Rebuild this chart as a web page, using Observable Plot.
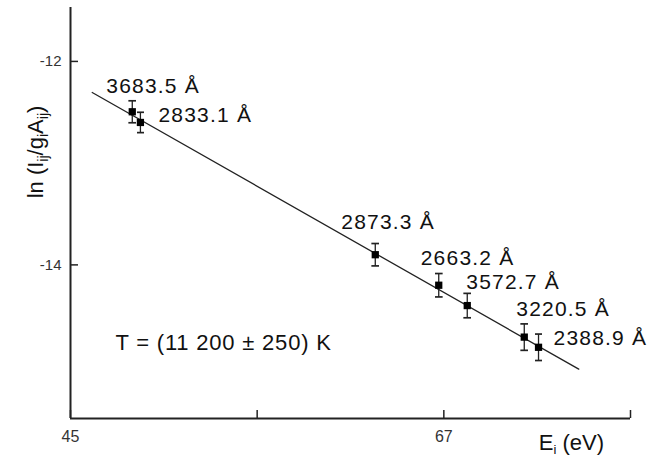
<!DOCTYPE html>
<html><head><meta charset="utf-8">
<script src="https://cdn.jsdelivr.net/npm/d3@7"></script>
<script src="https://cdn.jsdelivr.net/npm/@observablehq/plot@0.6"></script>
<style>
body{margin:0;background:#fff}
svg{display:block}
g.wl text{letter-spacing:1.2px}
g.ann text{letter-spacing:0.8px}
g[aria-label="x-axis tick label"] text{font-size:16px}
g[aria-label="y-axis tick label"] text{font-size:15px}
</style>
</head><body><div id="chart"></div>
<script>
// ---- data ----
const wavelengths = ["3683.5 Å", "2833.1 Å", "2873.3 Å", "2663.2 Å", "3572.7 Å", "3220.5 Å", "2388.9 Å"];
const energies = [48.64, 49.12, 62.96, 66.70, 68.38, 71.74, 72.58];
const lnValues = [-12.495, -12.60, -13.90, -14.20, -14.40, -14.71, -14.81];
const errors = [0.108, 0.10, 0.11, 0.115, 0.12, 0.13, 0.13];
const fitX = [46.28, 74.95];
const fitY = [-12.305, -15.025];
const xTicks = [45, 56, 67, 78];
const xTickLabels = ["45", "", "67", ""];
const yTicks = [-12, -14];
const yTickLabels = ["-12", "-14"];
const xDomain = [45, 78];
const yDomain = [-15.51, -11.47];
const annotation = "T = (11 200 ± 250) K";
const annotationX = [47.65];
const annotationY = [-14.766];

// label offsets (px) from each point
const labelDx = [-26, 18, -34, -18, -1, -8, 15];
const labelDy = [-26, -7, -32, -27, -23, -28, -9];

const points = wavelengths.map((w, i) => ({
  label: w, x: energies[i], y: lnValues[i],
  lo: lnValues[i] - errors[i], hi: lnValues[i] + errors[i]
}));
const fit = fitX.map((x, i) => ({x, y: fitY[i]}));

const W = 662, H = 418 + 40;
const plot = Plot.plot({
  width: W, height: H,
  marginLeft: 70, marginRight: 32, marginTop: 7, marginBottom: 40,
  x: {domain: xDomain, label: null},
  y: {domain: yDomain, label: null},
  style: {fontFamily: "'Liberation Sans', Arial, sans-serif", color: "#222", background: "#fff"},
  marks: [
    Plot.ruleX([xDomain[0]], {stroke: "#222", strokeWidth: 2}),
    Plot.ruleY([yDomain[0]], {stroke: "#222", strokeWidth: 2}),
    Plot.axisX(xTicks, {label: null, tickSize: -8, tickPadding: 20, strokeWidth: 1.5, fontSize: 16, fill: "#333",
      tickFormat: d => xTickLabels[xTicks.indexOf(d)]}),
    Plot.axisY(yTicks, {label: null, tickSize: -8, tickPadding: 17, strokeWidth: 1.5, fontSize: 15, fill: "#333",
      tickFormat: d => yTickLabels[yTicks.indexOf(d)]}),
    Plot.line(fit, {x: "x", y: "y", stroke: "#222", strokeWidth: 1.3}),
    Plot.link(points, {x1: "x", x2: "x", y1: "lo", y2: "hi", stroke: "#222", strokeWidth: 1.3, marker: "tick"}),
    Plot.dot(points, {x: "x", y: "y", symbol: "square", r: 4.1, fill: "#000", stroke: "none"}),
    ...points.map((p, i) => Plot.text([p], {x: "x", y: "y", text: "label", dx: labelDx[i], dy: labelDy[i],
      textAnchor: "start", fontSize: 21, fill: "#111", className: "wl"})),
    Plot.text(annotationX, {x: d => d, y: (d, i) => annotationY[i], text: () => annotation,
      textAnchor: "start", fontSize: 22, fill: "#111", className: "ann"})
  ]
});

const svg = d3.select(plot);
// y-axis label with subscripts
const yl = svg.append("text")
  .attr("transform", "translate(43,152) rotate(-90)")
  .attr("text-anchor", "middle")
  .attr("font-size", 22)
  .attr("fill", "#111");
yl.append("tspan").text("ln (I");
yl.append("tspan").attr("font-size", 14).attr("dy", 5).text("ij");
yl.append("tspan").attr("dy", -5).text("/g");
yl.append("tspan").attr("font-size", 14).attr("dy", 5).text("i");
yl.append("tspan").attr("dy", -5).text("A");
yl.append("tspan").attr("font-size", 14).attr("dy", 5).text("ij");
yl.append("tspan").attr("dy", -5).text(")");

// x-axis label with subscript
const xl = svg.append("text")
  .attr("x", W - 32 - 26).attr("y", 450)
  .attr("text-anchor", "end")
  .attr("font-size", 22)
  .attr("fill", "#111");
xl.append("tspan").text("E");
xl.append("tspan").attr("font-size", 13).attr("dy", 4).text("i");
xl.append("tspan").attr("dy", -4).text(" (eV)");

document.getElementById("chart").append(plot);
</script>
</body></html>
